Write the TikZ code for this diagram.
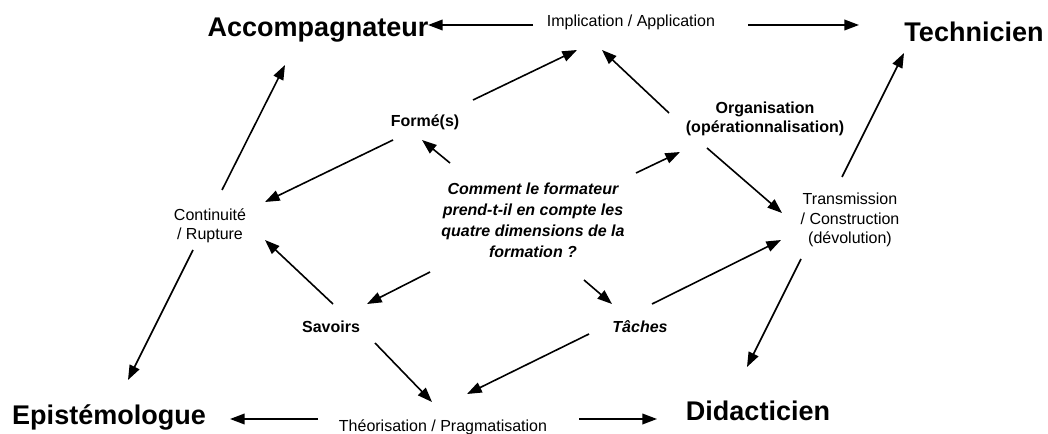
\documentclass[tikz,border=0pt]{standalone}
\usepackage{fontspec}
\setmainfont{Liberation Sans}
\usetikzlibrary{arrows.meta,calc}
\tikzset{
  lbl/.style={inner sep=0pt, align=center, font=\fontsize{12}{14.25}\selectfont},
  dim/.style={inner sep=0pt, align=center, font=\bfseries\fontsize{12}{14.25}\selectfont},
  role/.style={inner sep=0pt, font=\bfseries\fontsize{20.25}{24}\selectfont},
  arr/.style={-{Triangle[length=11pt,width=8pt]}, line width=1.2pt},
}
\begin{document}
\begin{tikzpicture}[x=0.75pt,y=-0.75pt]
\useasboundingbox (0,0) rectangle (1048,434);
% the four roles
\node[role,anchor=base] (acc) at (318,37) {Accompagnateur};
\node[role,anchor=base] (tech) at (974,42) {Technicien};
\node[role,anchor=base] (epi) at (109,424) {Epistémologue};
\node[role,anchor=base] (did) at (758,420) {Didacticien};
% axes between the roles
\node[lbl,anchor=base] (impl) at (631,27) {Implication / Application};
\node[lbl,anchor=base] (theo) at (443,431) {Théorisation / Pragmatisation};
\node[lbl,anchor=north] (cont) at (210,208) {Continuité\\/ Rupture};
\node[lbl,anchor=north,font=\fontsize{12}{14.5}\selectfont] (trans) at (850,193) {Transmission\\/ Construction\\(dévolution)};
% the four dimensions
\node[dim,anchor=base] (formes) at (425,127) {Formé(s)};
\node[dim,anchor=base] (sav) at (331,332) {Savoirs};
\node[dim,anchor=base,font=\bfseries\itshape\fontsize{12}{14.25}\selectfont] (tach) at (640,332) {Tâches};
\node[dim,anchor=north] (org) at (765,102) {Organisation\\(opérationnalisation)};
\node[dim,anchor=north,font=\bfseries\itshape\fontsize{12}{15.75}\selectfont] (quest) at (533,183)
  {Comment le formateur\\prend-t-il en compte les\\quatre dimensions de la\\formation ?};
% connectors
\foreach \a/\ax/\ay/\b/\bx/\by in {
  impl.base/-98/-2/acc.base/110/-12,
  impl.base/117/-2/tech.base/-115/-17,
  theo.base/-125/-12/epi.base/121/-5,
  theo.base/136/-12/did.base/-101/-1,
  cont.north/12/-18/acc.base/-33/28,
  cont.north/-17/42/epi.base/19/-44,
  formes.base/-32/13/cont.north/55/-6,
  formes.base/48/-27/impl.base/-54/23,
  quest.north/-83/-20/formes.base/-3/13,
  org.north/-96/11/impl.base/-29/23,
  quest.north/103/-10/org.north/-85/50,
  org.north/-58/46/trans.north/-68/20,
  trans.north/-8/-16/tech.base/-70/11,
  trans.north/-49/66/did.base/-11/-53,
  tach.base/12/-28/trans.north/-69/47,
  quest.north/51/97/tach.base/-28/-28,
  quest.north/-103/89/sav.base/36/-28,
  sav.base/2/-28/cont.north/55/32,
  sav.base/44/11/theo.base/-11/-29,
  tach.base/-51/2/theo.base/24/-37}
{
\draw[arr] ($(\a)+(\ax,\ay)$) -- ($(\b)+(\bx,\by)$);
}
\end{tikzpicture}
\end{document}
